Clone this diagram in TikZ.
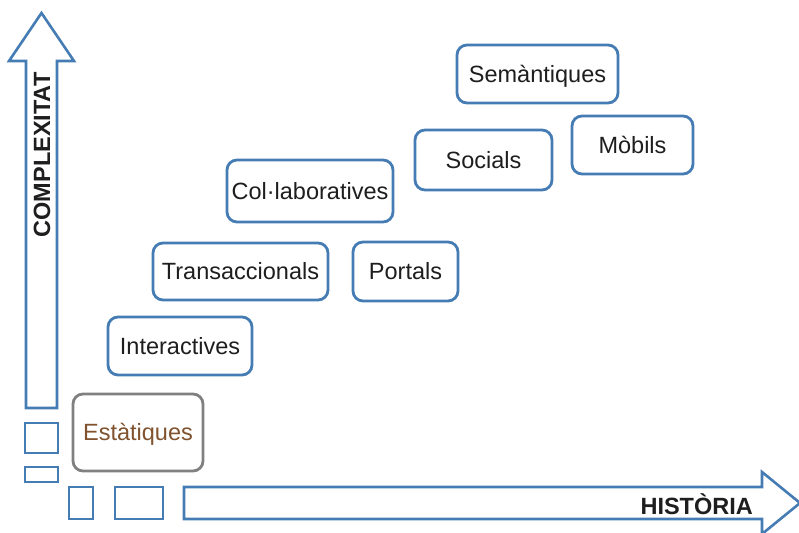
\documentclass[tikz,border=0pt]{standalone}
\usepackage{fontspec}
\setmainfont{Liberation Sans}
\begin{document}
\begin{tikzpicture}[x=1pt,y=-1pt,
  axisblue/.style={draw=blueline, line width=2.6pt, line join=miter},
  era/.style={draw=blueline, line width=2.8pt, rounded corners=10pt, fill=white,
    inner sep=0pt, text height=16.8pt, text depth=0pt, font=\fontsize{23.5}{27}\selectfont, text=textdark},
  sq/.style={draw=blueline, line width=2.6pt},
  axislabel/.style={font=\fontsize{23.5}{27}\selectfont\bfseries, text=textdark, inner sep=0pt}
]
\definecolor{blueline}{RGB}{70,124,180}
\definecolor{textdark}{RGB}{30,30,30}
\definecolor{grayline}{RGB}{128,128,128}
\definecolor{brown}{RGB}{128,82,45}
\useasboundingbox (0,0) rectangle (799,532);
\fill[white] (0,0) rectangle (799,532);

% vertical arrow
\draw[axisblue] (26,408) -- (26,61) -- (9,61) -- (41.5,13) -- (74,61) -- (57,61) -- (57,408) -- cycle;
% horizontal arrow
\draw[axisblue] (184,487) -- (762,487) -- (762,472) -- (800,503) -- (762,534) -- (762,519) -- (184,519) -- cycle;

\node[axislabel, rotate=90, anchor=base] (cx) at (50,155) {COMPLEXITAT};
\node[axislabel, anchor=base east] (hi) at (753,514) {HISTÒRIA};

% small squares
\draw[sq] (25,423) rectangle (58,453);
\draw[sq] (25,467) rectangle (58,482);
\draw[sq] (69,487) rectangle (93,519);
\draw[sq] (115,487) rectangle (163,519);

% eras
\node[era, draw=grayline, text=brown, minimum width=130pt, minimum height=77pt] (est) at (138,432.5) {Estàtiques};
\node[era, minimum width=144pt, minimum height=58pt] (int) at (180,346) {Interactives};
\node[era, minimum width=175pt, minimum height=57pt] (tra) at (240.5,271.5) {Transaccionals};
\node[era, minimum width=105pt, minimum height=59pt] (por) at (405.5,271.5) {Portals};
\node[era, minimum width=166pt, minimum height=62pt] (col) at (310,191) {Col·laboratives};
\node[era, minimum width=137pt, minimum height=60pt] (soc) at (483.5,160) {Socials};
\node[era, minimum width=161pt, minimum height=58pt] (sem) at (537.5,74) {Semàntiques};
\node[era, minimum width=121pt, minimum height=58pt] (mob) at (632.5,145) {Mòbils};
\end{tikzpicture}
\end{document}
